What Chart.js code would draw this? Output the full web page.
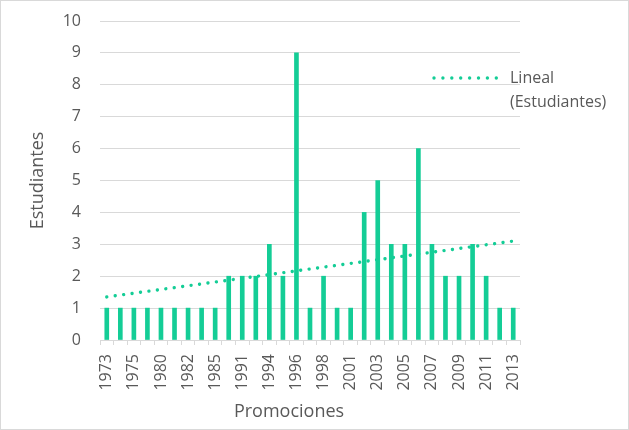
<!DOCTYPE html>
<html><head><meta charset="utf-8">
<script src="https://cdn.jsdelivr.net/npm/chart.js@4"></script>
<style>html,body{margin:0;padding:0;background:#fff}#wrap{position:relative;width:629px;height:430px;box-sizing:border-box;border:1px solid #d9d9d9}</style>
</head><body>
<div id="wrap"><canvas id="c" width="627" height="428"></canvas></div>
<script>
const categories = ["1973","1974","1975","1979","1980","1981","1982","1984","1985","1990","1991","1993","1994","1995","1996","1997","1998","2000","2001","2002","2003","2004","2005","2006","2007","2008","2009","2010","2011","2012","2013"];
const estudiantes = [1,1,1,1,1,1,1,1,1,2,2,2,3,2,9,1,2,1,1,4,5,3,3,6,3,2,2,3,2,1,1];
const trendEnds = [1.35, 3.1];
const yTicks = [0,1,2,3,4,5,6,7,8,9,10];
const legendText = ["Lineal", "(Estudiantes)"];
const xTitle = 'Promociones';
const yTitle = 'Estudiantes';

const green = '#14CD96';
const grey = '#595959';
const FONT = '"Open Sans", sans-serif';

const trendData = categories.map((_, i) => i === 0 ? trendEnds[0] : (i === categories.length - 1 ? trendEnds[1] : null));

const legendPlugin = {
  id: 'trendLegend',
  afterDraw(chart) {
    const ctx = chart.ctx;
    ctx.save();
    ctx.fillStyle = green;
    for (let i = 0; i < 8; i++) {
      ctx.beginPath();
      ctx.arc(433 + i * 8.9, 77, 1.7, 0, Math.PI * 2);
      ctx.fill();
    }
    ctx.fillStyle = grey;
    ctx.font = '16px ' + FONT;
    ctx.textBaseline = 'middle';
    ctx.textAlign = 'left';
    ctx.fillText(legendText[0], 509, 77);
    ctx.fillText(legendText[1], 509, 101);
    // x-axis title (offset left of chart-area centre, as in the original)
    ctx.font = '18px ' + FONT;
    ctx.textAlign = 'center';
    ctx.fillText(xTitle, 288, 411);
    ctx.restore();
  }
};

new Chart(document.getElementById('c'), {
  data: {
    labels: categories,
    datasets: [
      { type: 'line', label: 'Lineal (Estudiantes)', data: trendData, spanGaps: true,
        borderColor: green, borderWidth: 3.4, borderDash: [0.01, 8.5], borderCapStyle: 'round',
        pointRadius: 0, fill: false, order: 0 },
      { type: 'bar', label: 'Estudiantes', data: estudiantes, backgroundColor: green,
        barThickness: 4, order: 1 }
    ]
  },
  options: {
    responsive: false, animation: false,
    layout: { padding: { top: 20, right: 108, left: 0, bottom: 0 } },
    plugins: { legend: { display: false }, tooltip: { enabled: false } },
    scales: {
      x: {
        offset: true,
        grid: { drawOnChartArea: false, drawTicks: true, tickLength: 5, color: '#d9d9d9' },
        border: { color: '#d9d9d9' },
        ticks: { color: grey, font: { family: FONT, size: 16 }, maxRotation: 90, minRotation: 90,
          autoSkip: false, padding: 9,
          callback: function(v, i) { return i % 2 === 0 ? this.getLabelForValue(v) : ''; } },
        title: { display: false },
        afterFit: s => { s.height = 89; }
      },
      y: {
        min: 0, max: 10,
        afterBuildTicks: s => { s.ticks = yTicks.map(v => ({ value: v })); },
        grid: { color: '#d9d9d9', drawTicks: false, lineWidth: 1 },
        border: { display: false },
        ticks: { color: grey, font: { family: FONT, size: 16 }, padding: 19 },
        title: { display: true, text: yTitle, color: grey, font: { family: FONT, size: 18 }, padding: { top: 26, bottom: 0 } },
        afterFit: s => { s.width = 99; s.paddingTop = 0; s.paddingBottom = 0; }
      }
    }
  },
  plugins: [legendPlugin]
});
</script>
</body></html>
